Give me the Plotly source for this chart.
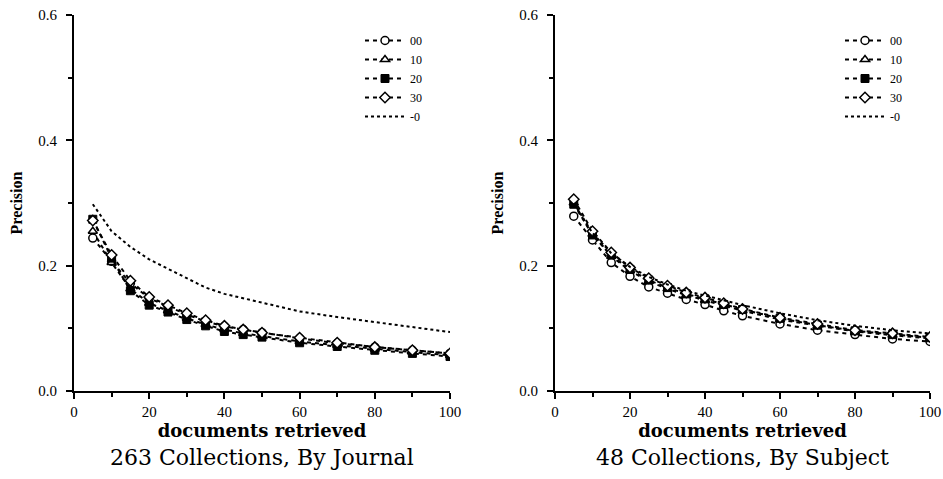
import plotly.graph_objects as go

x_docs = [5, 10, 15, 20, 25, 30, 35, 40, 45, 50, 60, 70, 80, 90, 100]
series_names = ["00", "10", "20", "30", "-0"]

# Left panel: 263 Collections, By Journal
left_00 = [0.244, 0.207, 0.172, 0.148, 0.135, 0.122, 0.111, 0.103, 0.098, 0.093, 0.084, 0.076, 0.070, 0.065, 0.060]
left_10 = [0.255, 0.205, 0.163, 0.140, 0.128, 0.116, 0.106, 0.098, 0.092, 0.088, 0.079, 0.073, 0.067, 0.062, 0.057]
left_20 = [0.274, 0.212, 0.160, 0.137, 0.126, 0.114, 0.104, 0.095, 0.090, 0.086, 0.077, 0.071, 0.065, 0.060, 0.055]
left_30 = [0.272, 0.217, 0.176, 0.150, 0.137, 0.124, 0.113, 0.104, 0.098, 0.093, 0.085, 0.077, 0.070, 0.065, 0.060]
left_m0 = [0.298, 0.255, 0.230, 0.210, 0.195, 0.180, 0.165, 0.155, 0.148, 0.140, 0.127, 0.118, 0.110, 0.102, 0.094]

# Right panel: 48 Collections, By Subject
right_00 = [0.279, 0.241, 0.205, 0.183, 0.166, 0.156, 0.146, 0.138, 0.128, 0.120, 0.107, 0.097, 0.090, 0.083, 0.079]
right_10 = [0.300, 0.250, 0.215, 0.192, 0.175, 0.163, 0.153, 0.145, 0.136, 0.128, 0.114, 0.104, 0.095, 0.089, 0.084]
right_20 = [0.298, 0.249, 0.217, 0.194, 0.177, 0.165, 0.155, 0.147, 0.138, 0.130, 0.116, 0.105, 0.096, 0.090, 0.085]
right_30 = [0.306, 0.255, 0.221, 0.197, 0.180, 0.168, 0.157, 0.149, 0.140, 0.131, 0.117, 0.107, 0.097, 0.092, 0.086]
right_m0 = [0.300, 0.252, 0.220, 0.198, 0.182, 0.170, 0.160, 0.152, 0.144, 0.137, 0.124, 0.113, 0.104, 0.097, 0.092]

panel_titles = ["263 Collections, By Journal", "48 Collections, By Subject"]

styles = [
    dict(symbol="circle", color="white", line=dict(color="black", width=1.5), size=8),
    dict(symbol="triangle-up", color="white", line=dict(color="black", width=1.5), size=8),
    dict(symbol="square", color="black", line=dict(color="black", width=1), size=8),
    dict(symbol="diamond", color="white", line=dict(color="black", width=1.5), size=8),
    None,
]

fig = go.Figure()
SERIF = "Liberation Serif"

panels = [
    ([left_00, left_10, left_20, left_30, left_m0], "x", "y", "legend"),
    ([right_00, right_10, right_20, right_30, right_m0], "x2", "y2", "legend2"),
]
for data, xa, ya, lg in panels:
    for name, vals, st in zip(series_names, data, styles):
        if st is None:
            fig.add_trace(go.Scatter(x=x_docs, y=vals, name=name, mode="lines",
                                     line=dict(color="black", width=2, dash="dot"),
                                     xaxis=xa, yaxis=ya, legend=lg))
        else:
            fig.add_trace(go.Scatter(x=x_docs, y=vals, name=name, mode="lines+markers",
                                     line=dict(color="black", width=2, dash="4px,4px"),
                                     marker=st, xaxis=xa, yaxis=ya, legend=lg))

axis_common = dict(showline=True, linecolor="black", linewidth=2, ticks="outside",
                   ticklen=6, tickwidth=1.5, tickcolor="black", showgrid=False,
                   zeroline=False, automargin=False, ticklabeloverflow="allow",
                   tickfont=dict(family=SERIF, size=15, color="black"))

W, H = 943, 479
def px_x(p):
    return p / W
def px_y(p):
    return 1 - p / H

xdoms = [[px_x(74), px_x(450)], [px_x(555), px_x(930)]]
ydom = [px_y(391), px_y(15)]
for i, (xn, yn) in enumerate([("xaxis", "yaxis"), ("xaxis2", "yaxis2")]):
    anchor_y = "y" if i == 0 else "y2"
    anchor_x = "x" if i == 0 else "x2"
    fig.layout[xn] = dict(domain=xdoms[i], anchor=anchor_y, range=[0, 100],
                          dtick=20, tick0=0, ticklabelstandoff=0,
                          minor=dict(dtick=10, ticklen=4, tickwidth=1.5, tickcolor="black", ticks="outside"),
                          title=dict(text="<b>documents retrieved</b>", standoff=0,
                                     font=dict(family="DejaVu Serif", size=18, color="black")),
                          **axis_common)
    fig.layout[yn] = dict(domain=ydom, anchor=anchor_x, range=[0, 0.6],
                          dtick=0.2, tick0=0, tickformat=".1f", ticklabelstandoff=6,
                          minor=dict(dtick=0.1, ticklen=4, tickwidth=1.5, tickcolor="black", ticks="outside"),
                          title=dict(text="<b>Precision</b>", standoff=12,
                                     font=dict(family=SERIF, size=16, color="black")),
                          **axis_common)

legend_common = dict(font=dict(family=SERIF, size=12, color="black"), bgcolor="rgba(0,0,0,0)",
                     yanchor="top", xanchor="left", tracegroupgap=0, itemwidth=40)
fig.update_layout(
    legend=dict(x=px_x(360), y=px_y(26), **legend_common),
    legend2=dict(x=px_x(840), y=px_y(26), **legend_common),
    showlegend=True,
    width=W, height=H,
    margin=dict(l=0, r=0, t=0, b=0),
    paper_bgcolor="white", plot_bgcolor="white",
)

for i, t in enumerate(panel_titles):
    cx = (xdoms[i][0] + xdoms[i][1]) / 2
    fig.add_annotation(text=t, x=cx, y=px_y(457), xref="paper", yref="paper",
                       xanchor="center", yanchor="middle", showarrow=False,
                       font=dict(family="DejaVu Serif", size=22, color="black"))

fig.write_html("out.html", config={"displayModeBar": False},
               post_script="document.body.style.margin='0px';document.body.style.overflow='hidden';")
